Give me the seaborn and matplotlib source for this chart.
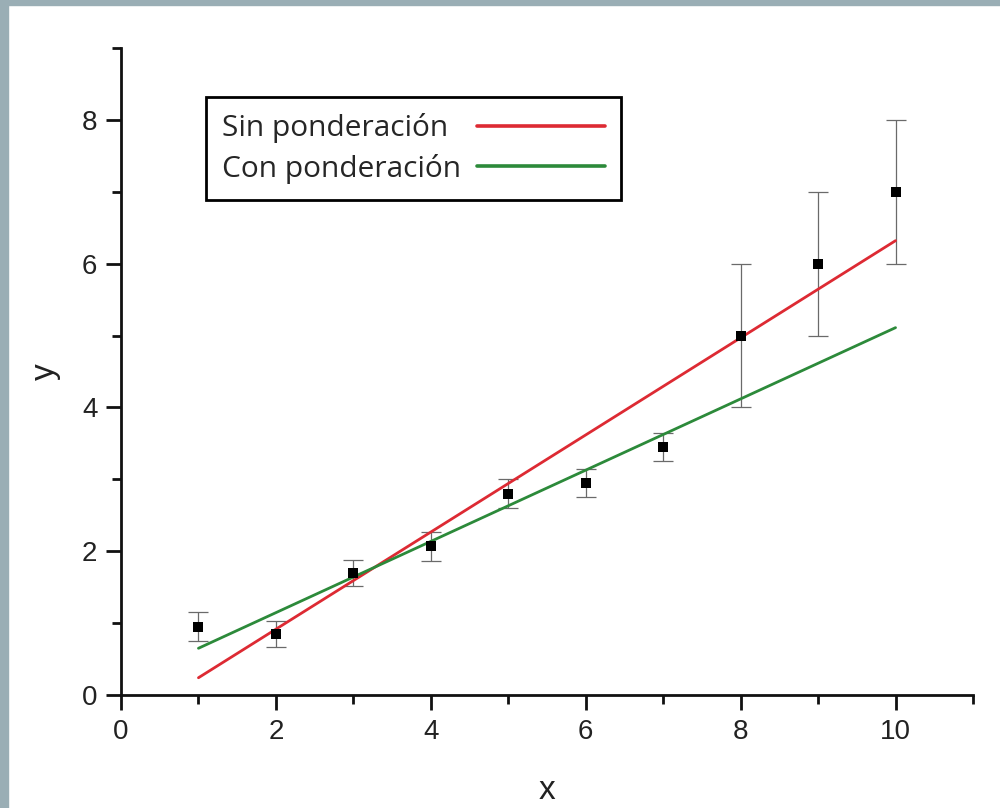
import numpy as np
import pandas as pd
import matplotlib
matplotlib.use("Agg")
import matplotlib.pyplot as plt
from matplotlib.ticker import MultipleLocator
from matplotlib.patches import Rectangle
import seaborn as sns

# Measured points with their uncertainties
x_vals = [1, 2, 3, 4, 5, 6, 7, 8, 9, 10]
y_vals = [0.95, 0.85, 1.70, 2.07, 2.80, 2.95, 3.45, 5.00, 6.00, 7.00]
y_err = [0.20, 0.18, 0.18, 0.20, 0.20, 0.20, 0.20, 1.00, 1.00, 1.00]

# Fitted lines (end points)
fit_x = [1, 10]
fit_sin = [0.24, 6.32]
fit_con = [0.65, 5.11]
labels = ["Sin ponderación", "Con ponderación"]

sns.set_style("ticks")
plt.rcParams["font.family"] = ["Liberation Sans", "DejaVu Sans"]

fig = plt.figure(figsize=(10, 8.08), dpi=100)
fig.patch.set_facecolor("white")
# grey-blue frame on left and top edges
fig.patches.append(Rectangle((0, 0), 8 / 1000, 1, transform=fig.transFigure,
                             color="#9aaeb5", zorder=0))
fig.patches.append(Rectangle((0, 1 - 5 / 808), 1, 5 / 808, transform=fig.transFigure,
                             color="#9aaeb5", zorder=0))

ax = fig.add_axes([0.121, 1 - 695 / 808, 0.973 - 0.121, (695 - 48) / 808])

df = pd.DataFrame({"x": x_vals, "y": y_vals, "err": y_err})
fits = pd.DataFrame({"x": fit_x * 2, "y": fit_sin + fit_con,
                     "fit": [labels[0]] * 2 + [labels[1]] * 2})

ax.errorbar(df["x"], df["y"], yerr=df["err"], fmt="none", ecolor="#6a6a6a",
            elinewidth=0.9, capsize=7, capthick=0.9, zorder=2)
sns.lineplot(data=fits, x="x", y="y", hue="fit",
             palette={labels[0]: "#dd2a33", labels[1]: "#2c8a3a"},
             linewidth=2.0, ax=ax, zorder=3)
sns.scatterplot(data=df, x="x", y="y", marker="s", s=45, color="black",
                edgecolor="black", linewidth=0, ax=ax, zorder=4, legend=False)

ax.set_xlim(0, 11)
ax.set_ylim(0, 9)
ax.xaxis.set_major_locator(MultipleLocator(2))
ax.xaxis.set_minor_locator(MultipleLocator(1))
ax.yaxis.set_major_locator(MultipleLocator(2))
ax.yaxis.set_minor_locator(MultipleLocator(1))
sns.despine(ax=ax)
for s in ["left", "bottom"]:
    ax.spines[s].set_linewidth(2)
    ax.spines[s].set_color("#111111")
ax.tick_params(which="major", length=11, width=2, color="#111111",
               labelsize=20, pad=6, labelcolor="#222222")
ax.tick_params(which="minor", length=6.5, width=2, color="#111111")

ax.set_xlabel("x", fontsize=24, labelpad=22, color="#222222")
ax.set_ylabel("y", fontsize=24, labelpad=15, color="#222222")

leg = ax.legend(loc="upper left", bbox_to_anchor=(0.0998, 0.9243), borderaxespad=0,
                markerfirst=False, fancybox=False, framealpha=1, edgecolor="black",
                prop={"family": "Open Sans", "size": 21.5}, handlelength=4.3,
                borderpad=0.55, labelspacing=0.35, handletextpad=0.5)
leg.get_frame().set_linewidth(2)
for line in leg.get_lines():
    line.set_linewidth(2.6)

# keep legend texts left-aligned with the sample lines lined up on the right
fig.canvas.draw()
widths = [t.get_window_extent().width for t in leg.get_texts()]
for col in leg._legend_handle_box.get_children():
    for item, w in zip(col.get_children(), widths):
        item.sep += (max(widths) - w) * 72 / fig.dpi

fig.savefig("out.png", dpi=100, facecolor=fig.get_facecolor())
